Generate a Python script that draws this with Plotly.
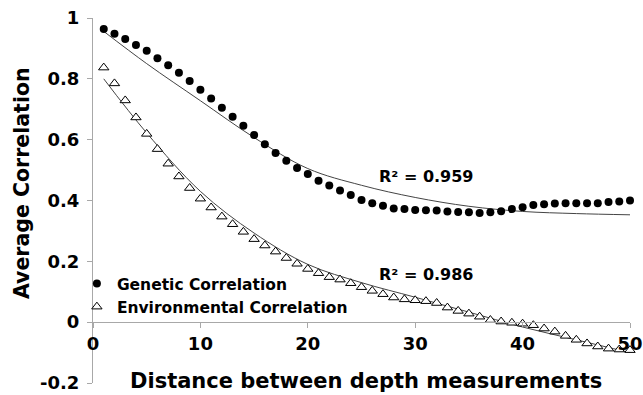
import plotly.graph_objects as go

distance = list(range(1, 51))
genetic = [0.964, 0.948, 0.931, 0.911, 0.892, 0.868, 0.845, 0.820, 0.793, 0.764,
           0.735, 0.705, 0.675, 0.646, 0.615, 0.585, 0.556, 0.531, 0.507, 0.487,
           0.465, 0.449, 0.433, 0.418, 0.402, 0.391, 0.383, 0.374, 0.372, 0.369,
           0.368, 0.367, 0.364, 0.362, 0.361, 0.359, 0.361, 0.365, 0.372, 0.378,
           0.385, 0.388, 0.390, 0.391, 0.391, 0.391, 0.391, 0.395, 0.397, 0.400]
environmental = [0.837, 0.785, 0.729, 0.673, 0.619, 0.569, 0.521, 0.479, 0.441, 0.406,
                 0.377, 0.347, 0.322, 0.297, 0.273, 0.252, 0.232, 0.211, 0.192, 0.175,
                 0.161, 0.148, 0.140, 0.128, 0.115, 0.103, 0.092, 0.081, 0.075, 0.072,
                 0.069, 0.063, 0.048, 0.037, 0.028, 0.018, 0.007, 0.002, -0.002, -0.005,
                 -0.010, -0.021, -0.031, -0.045, -0.058, -0.070, -0.080, -0.087, -0.090, -0.092]

# trend lines
trend_x = [1, 5, 10, 15, 20, 25, 30, 35, 40, 45, 50]
genetic_trend = [0.956, 0.850, 0.728, 0.607, 0.505, 0.450, 0.410, 0.381, 0.364, 0.357, 0.353]
environmental_trend = [0.800, 0.622, 0.430, 0.293, 0.190, 0.130, 0.082, 0.033, -0.016, -0.058, -0.100]

r2_labels = ["R² = 0.959", "R² = 0.986"]
x_ticks = [0, 10, 20, 30, 40, 50]
y_ticks = [-0.2, 0, 0.2, 0.4, 0.6, 0.8, 1]
y_tick_text = ["-0.2", "0", "0.2", "0.4", "0.6", "0.8", "1"]

FONT = "DejaVu Sans"
AXIS_GRAY = "#a8a8a8"

fig = go.Figure()
fig.add_trace(go.Scatter(x=trend_x, y=genetic_trend, mode="lines", line_shape="spline",
                         line=dict(color="#444444", width=1), showlegend=False, hoverinfo="skip"))
fig.add_trace(go.Scatter(x=trend_x, y=environmental_trend, mode="lines", line_shape="spline",
                         line=dict(color="#444444", width=1), showlegend=False, hoverinfo="skip"))
fig.add_trace(go.Scatter(x=distance, y=genetic, mode="markers", name="Genetic Correlation",
                         marker=dict(symbol="circle", size=8, color="black"), cliponaxis=False))
fig.add_trace(go.Scatter(x=distance, y=environmental, mode="markers", name="Environmental Correlation",
                         marker=dict(symbol="triangle-up", size=9, color="white",
                                     line=dict(color="black", width=1)), cliponaxis=False))

fig.add_annotation(x=31, y=0.478, xref="x", yref="y", text="<b>" + r2_labels[0] + "</b>",
                   showarrow=False, font=dict(family=FONT, size=16, color="black"))
fig.add_annotation(x=31, y=0.156, xref="x", yref="y", text="<b>" + r2_labels[1] + "</b>",
                   showarrow=False, font=dict(family=FONT, size=16, color="black"))
fig.add_annotation(x=0.508, y=0.006, xref="paper", yref="paper", xanchor="center", yanchor="middle",
                   text="<b>Distance between depth measurements</b>", showarrow=False,
                   font=dict(family=FONT, size=21, color="black"))
fig.add_annotation(x=-0.132, y=0.548, xref="paper", yref="paper", xanchor="center", yanchor="middle",
                   textangle=-90, text="<b>Average Correlation</b>", showarrow=False,
                   font=dict(family=FONT, size=20.5, color="black"))

fig.update_layout(
    width=643, height=395,
    margin=dict(l=93, r=13, t=18, b=12, autoexpand=False),
    plot_bgcolor="white", paper_bgcolor="white",
    font=dict(family=FONT, color="black"),
    legend=dict(x=-0.030, y=0.318, xanchor="left", yanchor="top",
                bgcolor="rgba(0,0,0,0)",
                font=dict(family=FONT, size=15.5, color="black", weight="bold"),
                tracegroupgap=0, itemwidth=30),
    xaxis=dict(range=[0, 50], tickvals=x_ticks, ticktext=["<b>%d</b>" % t for t in x_ticks],
               showgrid=False, zeroline=False, showline=True, linecolor=AXIS_GRAY, linewidth=1,
               ticks="outside", ticklen=5, tickcolor=AXIS_GRAY, automargin=False,
               tickfont=dict(family=FONT, size=18, color="black"),
               anchor="free", position=0.2 / 1.2),
    yaxis=dict(range=[-0.2, 1], tickvals=y_ticks, ticktext=["<b>%s</b>" % t for t in y_tick_text],
               showgrid=False, zeroline=False, showline=True, linecolor=AXIS_GRAY, linewidth=1,
               ticks="outside", ticklen=5, tickcolor=AXIS_GRAY, automargin=False,
               ticklabelstandoff=4,
               tickfont=dict(family=FONT, size=18, color="black")),
)
fig.write_html("out.html", config={"displayModeBar": False},
               post_script="document.body.style.margin='0';")
